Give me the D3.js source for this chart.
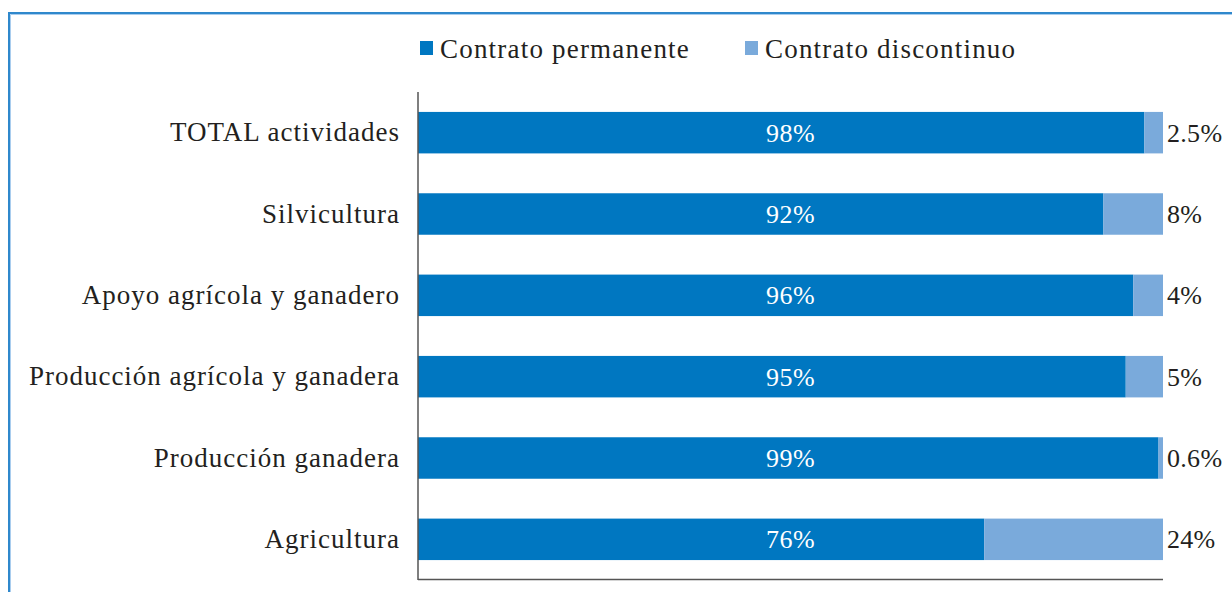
<!DOCTYPE html>
<html><head><meta charset="utf-8">
<script src="https://cdn.jsdelivr.net/npm/d3@7"></script>
<style>body{margin:0;background:#fff}svg{display:block}</style>
</head><body><svg id="c" width="1232" height="592"></svg>
<script>
const categories = ["TOTAL actividades","Silvicultura","Apoyo agrícola y ganadero","Producción agrícola y ganadera","Producción ganadera","Agricultura"];
const permanente = [97.5, 92, 96, 95, 99.4, 76];
const discontinuo = [2.5, 8, 4, 5, 0.6, 24];
const permLabels = ["98%","92%","96%","95%","99%","76%"];
const discLabels = ["2.5%","8%","4%","5%","0.6%","24%"];
const seriesNames = ["Contrato permanente","Contrato discontinuo"];
const colors = ["#0077c1","#7aaadb"];

const FONT = "'Liberation Serif','Times New Roman',Tinos,serif";
const INK = "#231f20";
const svg = d3.select("#c");
const fs = 27;

// frame
svg.append("path").attr("d","M9,600 V13 H1240").attr("fill","none").attr("stroke","#2f88cc").attr("stroke-width",2);
svg.append("path").attr("d","M10.5,600 V14.5 H1240").attr("fill","none").attr("stroke","#a9cdee").attr("stroke-width",1);

const x = d3.scaleLinear().domain([0,100]).range([418,1163]);
const y = d3.scaleBand().domain(categories).range([92,580]).paddingInner(0.49).paddingOuter(0.245);

const rows = categories.map((c,i)=>({c, p:permanente[i], d:discontinuo[i], pl:permLabels[i], dl:discLabels[i]}));

svg.selectAll("rect.p").data(rows).join("rect").attr("class","p")
  .attr("x",x(0)).attr("y",d=>y(d.c)).attr("width",d=>x(d.p)-x(0)).attr("height",y.bandwidth()).attr("fill",colors[0]);
svg.selectAll("rect.d").data(rows).join("rect").attr("class","d")
  .attr("x",d=>x(d.p)).attr("y",d=>y(d.c)).attr("width",d=>x(d.p+d.d)-x(d.p)).attr("height",y.bandwidth()).attr("fill",colors[1]);

svg.selectAll("text.pl").data(rows).join("text").attr("class","pl")
  .attr("x",x(50)).attr("y",d=>y(d.c)+y.bandwidth()/2).attr("dy","0.35em").attr("text-anchor","middle")
  .style("font-family",FONT).style("fill","#fff").style("font-size","26px").style("letter-spacing","0.5px").text(d=>d.pl);
svg.selectAll("text.dl").data(rows).join("text").attr("class","dl")
  .attr("x",x(100)+4).attr("y",d=>y(d.c)+y.bandwidth()/2).attr("dy","0.35em")
  .style("font-family",FONT).style("fill",INK).style("font-size","26px").style("letter-spacing","0.3px").text(d=>d.dl);

// axes
const ax = svg.append("g").attr("transform","translate(418,0)").call(d3.axisLeft(y).tickSize(0).tickPadding(18));
ax.select(".domain").attr("stroke","#555").attr("stroke-width",1.5).attr("d","M0,92V580");
ax.selectAll("text").style("font-size",fs+"px").style("font-family",FONT).style("fill",INK).style("letter-spacing","1px");
svg.append("line").attr("x1",x(0)).attr("x2",x(100)).attr("y1",579.5).attr("y2",579.5).attr("stroke","#555").attr("stroke-width",1.5);

// legend
const lx = [420, 745];
seriesNames.forEach((n,i)=>{
  svg.append("rect").attr("x",lx[i]).attr("y",41).attr("width",13).attr("height",14).attr("fill",colors[i]);
  svg.append("text").attr("x",lx[i]+20).attr("y",48.5).attr("dy","0.35em")
    .style("font-family",FONT).style("fill",INK).style("font-size",fs+"px").style("letter-spacing","1.2px").text(n);
});
</script></body></html>
